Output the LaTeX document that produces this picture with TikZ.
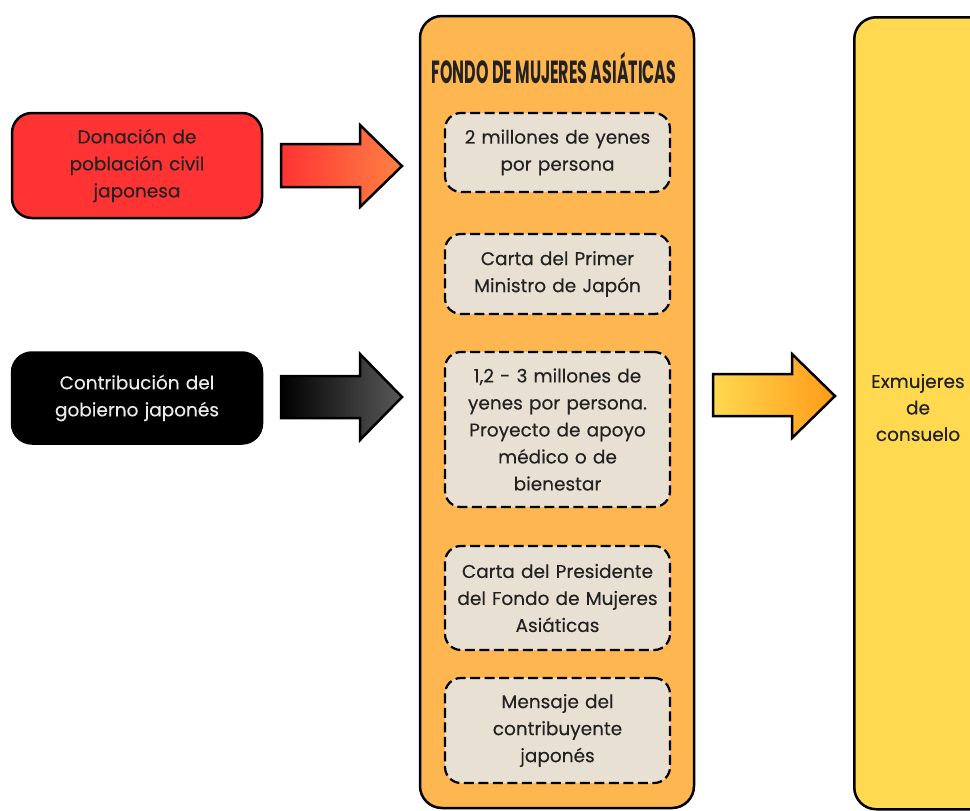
\documentclass[tikz,border=0pt]{standalone}
\usepackage{fontspec}
\setmainfont{Poppins}[FakeBold=0.3]
\newfontfamily\titlefont{Poppins}
\usetikzlibrary{shapes.arrows}
\definecolor{redbox}{HTML}{FF3333}
\definecolor{orangebox}{HTML}{FDB650}
\definecolor{yellowbox}{HTML}{FFD950}
\definecolor{innerbox}{HTML}{E9E0D4}
\definecolor{txt}{HTML}{222222}
\tikzset{
  srcbox/.style={draw=black, line width=2.5pt, rounded corners=20pt, minimum width=250pt, align=center, text width=220pt, font=\fontsize{18.5}{27}\selectfont},
  dashbox/.style={draw=black, line width=2.2pt, dash pattern=on 10pt off 4.5pt, rounded corners=16pt, fill=innerbox, minimum width=225pt, text width=215pt, align=center, text=txt, font=\fontsize{18.5}{27}\selectfont},
  bigarrow/.style={draw=black, line width=2.5pt, line join=miter}
}
\begin{document}
\begin{tikzpicture}[x=1pt,y=-1pt]
\useasboundingbox (0,0) rectangle (970,811);
\clip (0,0) rectangle (970,811);
\fill[white] (0,0) rectangle (970,811);
% source boxes
\node[srcbox, fill=redbox, text=txt, minimum height=105pt] (don) at (137,165.5) {Donación de\\población civil\\japonesa};
\node[srcbox, fill=black, text=white!92!black, minimum height=91pt] (gob) at (137,398) {Contribución del\\gobierno japonés};
% fund box
\node[draw=black, line width=2.5pt, rounded corners=22pt, fill=orangebox, minimum width=274pt, minimum height=792pt] (fondo) at (557,412) {};
\node[font=\titlefont\bfseries\fontsize{32}{34}\selectfont, text=txt] (title) at (554,68) {\scalebox{0.495}[1]{FONDO DE MUJERES ASIÁTICAS}};
\node[dashbox, minimum height=79pt] (b1) at (557.5,152.5) {2 millones de yenes\\por persona};
\node[dashbox, minimum height=80pt] (b2) at (557.5,274) {Carta del Primer\\Ministro de Japón};
\node[dashbox, minimum height=155pt] (b3) at (557.5,429.5) {1,2 - 3 millones de\\yenes por persona.\\Proyecto de apoyo\\médico o de\\bienestar};
\node[dashbox, minimum height=104pt] (b4) at (557.5,598) {Carta del Presidente\\del Fondo de Mujeres\\Asiáticas};
\node[dashbox, minimum height=105pt] (b5) at (557.5,730.5) {Mensaje del\\contribuyente\\japonés};
% target box
\node[draw=black, line width=2.5pt, rounded corners=22pt, fill=yellowbox, minimum width=150pt, minimum height=792pt, anchor=north west] (exm) at (853,16) {};
\node[align=center, text=txt, font=\fontsize{18.5}{26.5}\selectfont] (exmt) at (918,407.5) {Exmujeres\\de\\consuelo};
% arrows
\path[bigarrow, left color=redbox, right color=orangebox!60!redbox] (281,144) -- (360,144) -- (360,125) -- (402,166) -- (360,207) -- (360,187) -- (281,187) -- cycle;
\path[bigarrow, left color=black, right color=black!65] (281,376) -- (360,376) -- (360,354) -- (402,397) -- (360,440) -- (360,418) -- (281,418) -- cycle;
\path[bigarrow, left color=yellowbox, right color=orange!70!yellowbox] (713,374) -- (792,374) -- (792,354) -- (835,396) -- (792,438) -- (792,416) -- (713,416) -- cycle;
\end{tikzpicture}
\end{document}
